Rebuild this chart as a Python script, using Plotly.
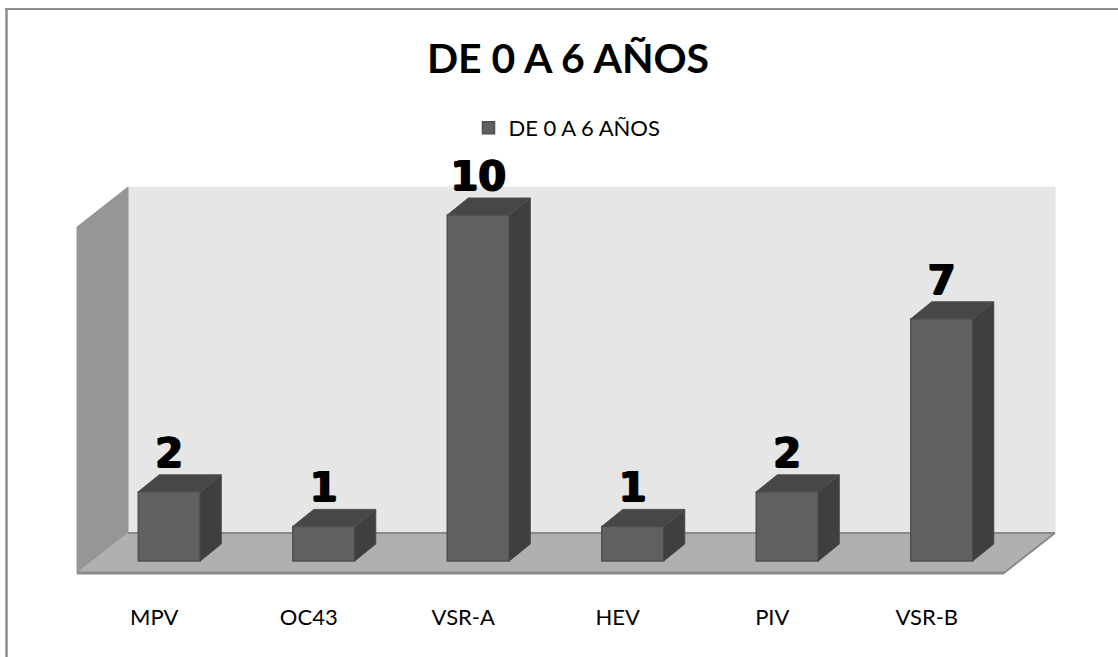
import plotly.graph_objects as go

categories = ['MPV', 'OC43', 'VSR-A', 'HEV', 'PIV', 'VSR-B']
values = [2, 1, 10, 1, 2, 7]
series_name = 'DE 0 A 6 AÑOS'

W = 1118
H = 657

# pixels per axis unit
px_x = 154.5
px_y = 34.6
# where x=-0.5 and y=0 fall on the page
left_px = 77
zero_px = 561
floor_px = 573

xr = [-0.5 - left_px / px_x, -0.5 + (W - left_px) / px_x]
yr = [-(H - zero_px) / px_y, zero_px / px_y]

floor_y = (zero_px - floor_px) / px_y
wall_top = floor_y + 10

# depth of the chart box and of each bar
box_dx = 51 / px_x
box_dy = 40 / px_y
bar_dx = 21 / px_x
bar_dy = 17 / px_y
bar_w = 62 / px_x
bar_shift = 15 / px_x

xpos = [i + bar_shift for i in range(len(categories))]

x_l, x_r = -0.5, 5.5


def poly(pts, fill, line=None):
    path = 'M' + ' L'.join('%f,%f' % p for p in pts) + ' Z'
    return dict(type='path', path=path, xref='x', yref='y', layer='below',
                fillcolor=fill, line=dict(color=line or fill, width=1))


shapes = [
    # back wall
    poly([(x_l + box_dx, floor_y + box_dy), (x_r + box_dx, floor_y + box_dy),
          (x_r + box_dx, wall_top + box_dy), (x_l + box_dx, wall_top + box_dy)], '#e6e6e6'),
    # left wall
    poly([(x_l, floor_y), (x_l + box_dx, floor_y + box_dy),
          (x_l + box_dx, wall_top + box_dy), (x_l, wall_top)], '#969696'),
    # floor
    poly([(x_l, floor_y), (x_r, floor_y), (x_r + box_dx, floor_y + box_dy),
          (x_l + box_dx, floor_y + box_dy)], '#b0b0b0'),
]
# floor edges
for a, b, wd in [((x_l, floor_y), (x_r, floor_y), 3),
                 ((x_r, floor_y), (x_r + box_dx, floor_y + box_dy), 2),
                 ((x_l + box_dx, floor_y + box_dy), (x_r + box_dx, floor_y + box_dy), 2)]:
    shapes.append(dict(type='line', xref='x', yref='y', layer='below', x0=a[0], y0=a[1],
                       x1=b[0], y1=b[1], line=dict(color='#8a8a8a', width=wd)))
# outer frame, cut off by the page on the right and at the bottom
shapes.append(dict(type='line', xref='paper', yref='paper', x0=6.5 / W, x1=6.5 / W,
                   y0=0, y1=1 - 8 / H, line=dict(color='#8c8c8c', width=2.5)))
shapes.append(dict(type='line', xref='paper', yref='paper', x0=5 / W, x1=1,
                   y0=1 - 9 / H, y1=1 - 9 / H, line=dict(color='#8c8c8c', width=2)))

side_x, side_y, top_x, top_y = [], [], [], []
for x, v in zip(xpos, values):
    xa = x - bar_w / 2
    xb = x + bar_w / 2
    side_x += [xb, xb + bar_dx, xb + bar_dx, xb, xb, None]
    side_y += [0, bar_dy, v + bar_dy, v, 0, None]
    top_x += [xa, xb, xb + bar_dx, xa + bar_dx, xa, None]
    top_y += [v, v, v + bar_dy, v + bar_dy, v, None]

fig = go.Figure()
fig.add_trace(go.Bar(x=xpos, y=values, width=bar_w, name=series_name, showlegend=True,
                     marker=dict(color='#606060', line=dict(color='#505050', width=1.5)),
                     hoverinfo='skip'))
fig.add_trace(go.Scatter(x=side_x, y=side_y, mode='lines', fill='toself', fillcolor='#3f3f3f',
                         line=dict(color='#474747', width=1), showlegend=False, hoverinfo='skip'))
fig.add_trace(go.Scatter(x=top_x, y=top_y, mode='lines', fill='toself', fillcolor='#474747',
                         line=dict(color='#505050', width=1), showlegend=False, hoverinfo='skip'))
# the shadow makes the digits as heavy as the original black face
fig.add_trace(go.Scatter(x=xpos, y=[v + bar_dy - 2 / px_y for v in values], mode='text',
                         text=[str(v) for v in values], textposition='top center',
                         textfont=dict(family='DejaVu Sans', size=40, color='black', weight='bold',
                                       shadow='1px 0 0 black, -1px 0 0 black, 0 1px 0 black'),
                         showlegend=False, hoverinfo='skip'))

fig.update_layout(
    width=W, height=H,
    margin=dict(l=0, r=0, t=0, b=0),
    paper_bgcolor='white', plot_bgcolor='white',
    shapes=shapes,
    title=dict(text='<b>DE 0 A 6 AÑOS</b>', x=568 / W, xanchor='center', y=1 - 59 / H, yanchor='middle',
               font=dict(family='Lato', size=41, color='black')),
    legend=dict(orientation='h', x=567 / W, xanchor='center', y=1 - 128 / H, yanchor='middle',
                font=dict(family='Lato', size=22, color='black'), bgcolor='rgba(0,0,0,0)'),
    xaxis=dict(range=xr, tickvals=list(range(len(categories))), ticktext=categories,
               anchor='free', position=1 - floor_px / H, showgrid=False, zeroline=False, showline=False,
               ticks='outside', ticklen=25, tickcolor='rgba(0,0,0,0)',
               tickfont=dict(family='Lato', size=22, color='black')),
    yaxis=dict(range=yr, visible=False, showgrid=False, zeroline=False),
)

# no page margin, the frame sits right at the window edge
fig.write_html('out.html', config=dict(displayModeBar=False),
               post_script="document.body.style.margin='0';")
